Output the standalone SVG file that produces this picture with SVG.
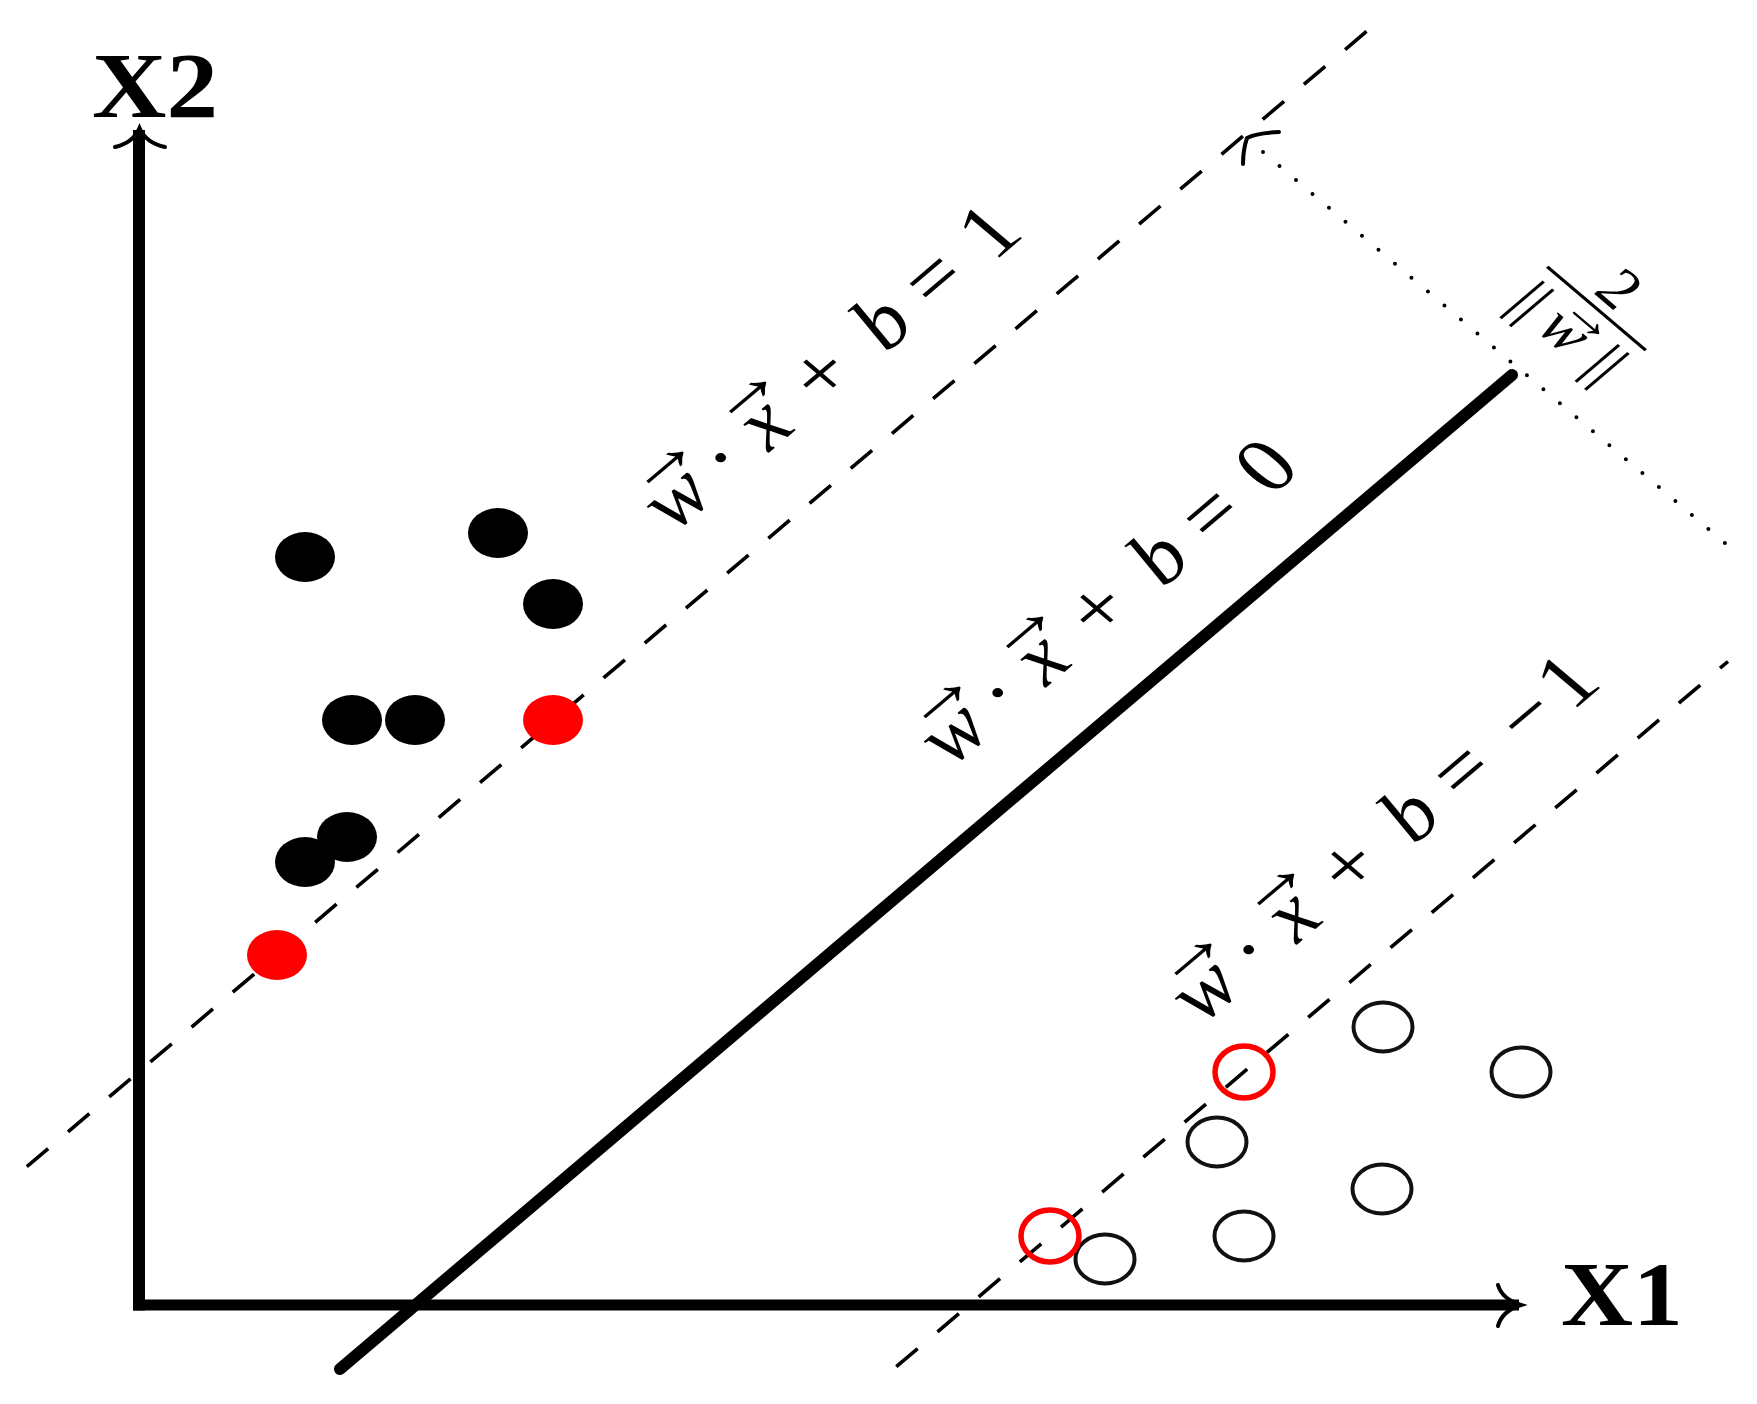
<svg xmlns="http://www.w3.org/2000/svg" width="1757" height="1404" viewBox="0 0 1757 1404">
  <style>
    .axis { stroke: #000; fill: none; }
    .head { stroke: #000; stroke-width: 4; fill: none; stroke-linecap: round; }
    .dash { stroke: #000; stroke-width: 3.6; fill: none; stroke-dasharray: 28 26; }
    .dots { stroke: #000; stroke-width: 4; fill: none; stroke-dasharray: 0 21.61; stroke-linecap: round; }
    .solid { stroke: #000; stroke-width: 12; fill: none; stroke-linecap: round; }
    .pos { fill: #000; }
    .sv { fill: #ff0000; }
    .neg { fill: none; stroke: #111; stroke-width: 4; }
    .svneg { fill: none; stroke: #ff0000; stroke-width: 5.5; }
    .axlabel { font-family: "Liberation Serif", "Times New Roman", serif; font-weight: bold; fill: #000; }
    .eq { font-family: "Liberation Serif", "Times New Roman", serif; font-size: 77px; fill: #000; text-anchor: middle; }
    .frac { font-family: "Liberation Serif", "Times New Roman", serif; font-size: 57px; fill: #000; text-anchor: middle; }
    .mi { font-style: italic; }
    .vec { font-family: "Liberation Serif", "Times New Roman", serif; font-size: 72px; fill: #000; text-anchor: middle; }
    .vecs { font-family: "Liberation Serif", "Times New Roman", serif; font-size: 52px; fill: #000; text-anchor: middle; }
  </style>

  <g id="connectors">
    <line class="axis" x1="139" y1="130" x2="139" y2="1310.5" stroke-width="12"/>
    <line class="axis" x1="133" y1="1305" x2="1519" y2="1305" stroke-width="11"/>
    <path class="head" d="M115,147 Q133,143 139.5,128 Q146,143 165,147"/>
    <path class="head" d="M1498,1285 Q1502,1299 1521,1305 Q1502,1311 1498,1326"/>
    <path class="dash" d="M26.8,1166.7 L1367,31"/>
    <path class="dash" d="M896.3,1366.7 L1728,661.5"/>
    <path class="solid" d="M340,1369 L1512,375"/>
    <path class="dots" d="M1263,152 L1725,543"/>
    <path class="head" stroke-width="3.5" d="M1279,132 Q1256,133 1247,138 Q1243,150 1243,164"/>
  </g>

  <g id="axis-x2-label"><text class="axlabel" x="92" y="117" font-size="94" textLength="126" lengthAdjust="spacingAndGlyphs">X2</text></g>
  <g id="axis-x1-label"><text class="axlabel" x="1561" y="1325" font-size="91" textLength="122" lengthAdjust="spacingAndGlyphs">X1</text></g>

  <g id="positive-class">
    <g id="p1"><ellipse class="pos" cx="305" cy="557" rx="30" ry="25"/></g>
    <g id="p2"><ellipse class="pos" cx="498" cy="533" rx="30" ry="25"/></g>
    <g id="p3"><ellipse class="pos" cx="553" cy="604" rx="30" ry="25"/></g>
    <g id="p4"><ellipse class="pos" cx="352" cy="720" rx="30" ry="25"/></g>
    <g id="p5"><ellipse class="pos" cx="415" cy="720" rx="30" ry="25"/></g>
    <g id="p6"><ellipse class="pos" cx="347" cy="837" rx="30" ry="25"/></g>
    <g id="p7"><ellipse class="pos" cx="305" cy="862" rx="30" ry="25"/></g>
    <g id="sv-pos1"><ellipse class="sv" cx="553" cy="720" rx="30" ry="25"/></g>
    <g id="sv-pos2"><ellipse class="sv" cx="277" cy="955" rx="30" ry="25"/></g>
  </g>

  <g id="negative-class">
    <g id="n1"><ellipse class="neg" cx="1383" cy="1027" rx="29.5" ry="24.5"/></g>
    <g id="n2"><ellipse class="neg" cx="1521" cy="1072" rx="29.5" ry="24.5"/></g>
    <g id="n3"><ellipse class="neg" cx="1217" cy="1142" rx="29.5" ry="24.5"/></g>
    <g id="n4"><ellipse class="neg" cx="1382" cy="1189" rx="29.5" ry="24.5"/></g>
    <g id="n5"><ellipse class="neg" cx="1244" cy="1236" rx="29.5" ry="24.5"/></g>
    <g id="n6"><ellipse class="neg" cx="1105" cy="1259" rx="29.5" ry="24.5"/></g>
    <g id="sv-neg1"><ellipse class="svneg" cx="1244" cy="1072" rx="29" ry="26"/></g>
    <g id="sv-neg2"><ellipse class="svneg" cx="1050" cy="1236" rx="29" ry="26"/></g>
  </g>

  <g id="label-margin-pos" transform="translate(672.8,534.3) scale(1.18,1) rotate(-45)">
    <text class="eq"><tspan class="mi" x="27.6" y="0">w</tspan><tspan x="82.9" y="0">·</tspan><tspan class="mi" x="132.7" y="0">x</tspan><tspan x="201.8" y="0">+</tspan><tspan class="mi" x="275" y="0">b</tspan><tspan x="337" y="0">=</tspan><tspan x="403.9" y="0">1</tspan></text>
    <text class="vec"><tspan x="43" y="-40">→</tspan><tspan x="142" y="-40">→</tspan></text>
  </g>

  <g id="label-hyperplane" transform="translate(949.8,769.3) scale(1.18,1) rotate(-45)">
    <text class="eq"><tspan class="mi" x="27.6" y="0">w</tspan><tspan x="82.9" y="0">·</tspan><tspan class="mi" x="132.7" y="0">x</tspan><tspan x="201.8" y="0">+</tspan><tspan class="mi" x="275" y="0">b</tspan><tspan x="337" y="0">=</tspan><tspan x="403.9" y="0">0</tspan></text>
    <text class="vec"><tspan x="43" y="-40">→</tspan><tspan x="142" y="-40">→</tspan></text>
  </g>

  <g id="label-margin-neg" transform="translate(1200.8,1026.3) scale(1.18,1) rotate(-45)">
    <text class="eq"><tspan class="mi" x="27.6" y="0">w</tspan><tspan x="82.9" y="0">·</tspan><tspan class="mi" x="132.7" y="0">x</tspan><tspan x="201.8" y="0">+</tspan><tspan class="mi" x="275" y="0">b</tspan><tspan x="337" y="0">=</tspan><tspan x="414.6" y="0">−</tspan><tspan x="463.8" y="0">1</tspan></text>
    <text class="vec"><tspan x="43" y="-40">→</tspan><tspan x="142" y="-40">→</tspan></text>
  </g>

  <g id="label-margin-width" transform="translate(1596.5,308.5) scale(1.18,1) rotate(45)">
    <line x1="-59" y1="0" x2="59" y2="0" stroke="#000" stroke-width="3"/>
    <text class="frac" x="0" y="-9">2</text>
    <text class="frac"><tspan x="-45" y="52">||</tspan><tspan class="mi" x="-3" y="52">w</tspan><tspan x="45" y="52">||</tspan></text>
    <text class="vecs" x="4" y="25">→</text>
  </g>
</svg>
